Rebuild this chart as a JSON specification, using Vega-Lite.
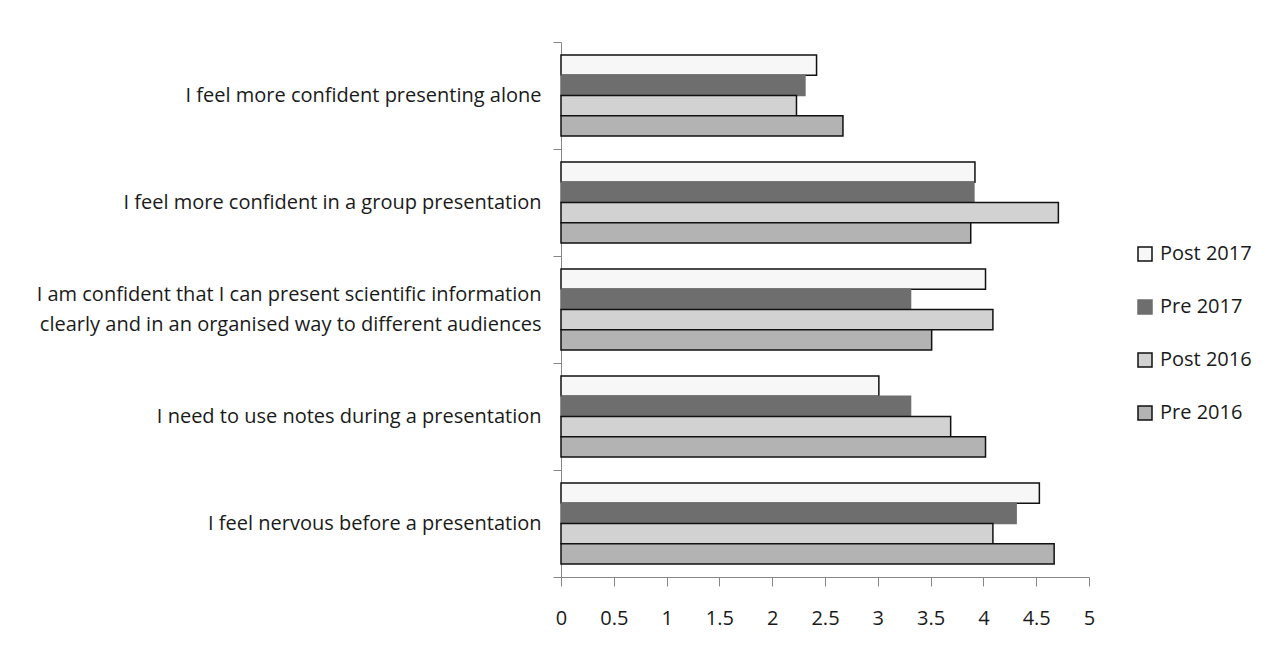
{
  "$schema": "https://vega.github.io/schema/vega-lite/v6.json",
  "width": 528,
  "height": 535,
  "autosize": "none",
  "padding": {"left": 561, "top": 42, "right": 178, "bottom": 69},
  "background": "white",
  "config": {
    "view": {"stroke": null},
    "font": "Open Sans",
    "axis": {"labelFont": "Open Sans", "labelColor": "#1a1a1a", "domainColor": "#868686", "tickColor": "#868686", "grid": false, "title": null},
    "legend": {"labelFont": "Open Sans"}
  },
  "data": {
    "values": [
      {"q": "I feel more confident presenting alone", "series": "Post 2017", "value": 2.42},
      {"q": "I feel more confident presenting alone", "series": "Pre 2017", "value": 2.31},
      {"q": "I feel more confident presenting alone", "series": "Post 2016", "value": 2.23},
      {"q": "I feel more confident presenting alone", "series": "Pre 2016", "value": 2.67},
      {"q": "I feel more confident in a group presentation", "series": "Post 2017", "value": 3.92},
      {"q": "I feel more confident in a group presentation", "series": "Pre 2017", "value": 3.91},
      {"q": "I feel more confident in a group presentation", "series": "Post 2016", "value": 4.71},
      {"q": "I feel more confident in a group presentation", "series": "Pre 2016", "value": 3.88},
      {"q": "I am confident that I can present scientific information clearly and in an organised way to different audiences", "series": "Post 2017", "value": 4.02},
      {"q": "I am confident that I can present scientific information clearly and in an organised way to different audiences", "series": "Pre 2017", "value": 3.31},
      {"q": "I am confident that I can present scientific information clearly and in an organised way to different audiences", "series": "Post 2016", "value": 4.09},
      {"q": "I am confident that I can present scientific information clearly and in an organised way to different audiences", "series": "Pre 2016", "value": 3.51},
      {"q": "I need to use notes during a presentation", "series": "Post 2017", "value": 3.01},
      {"q": "I need to use notes during a presentation", "series": "Pre 2017", "value": 3.31},
      {"q": "I need to use notes during a presentation", "series": "Post 2016", "value": 3.69},
      {"q": "I need to use notes during a presentation", "series": "Pre 2016", "value": 4.02},
      {"q": "I feel nervous before a presentation", "series": "Post 2017", "value": 4.53},
      {"q": "I feel nervous before a presentation", "series": "Pre 2017", "value": 4.31},
      {"q": "I feel nervous before a presentation", "series": "Post 2016", "value": 4.09},
      {"q": "I feel nervous before a presentation", "series": "Pre 2016", "value": 4.67}
    ]
  },
  "mark": {"type": "bar", "strokeWidth": 1.5},
  "encoding": {
    "y": {
      "field": "q",
      "type": "nominal",
      "sort": [
        "I feel more confident presenting alone",
        "I feel more confident in a group presentation",
        "I am confident that I can present scientific information clearly and in an organised way to different audiences",
        "I need to use notes during a presentation",
        "I feel nervous before a presentation"
      ],
      "scale": {"paddingInner": 0, "paddingOuter": 0},
      "axis": {
        "tickBand": "extent",
        "tickSize": 8,
        "labelPadding": 12,
        "labelFontSize": 20,
        "labelLimit": 600,
        "labelLineHeight": 30,
        "labelOffset": {"condition": {"test": "indexof(datum.label, ' clearly') > 0", "value": -15}, "value": 0},
        "labelExpr": "indexof(datum.label, ' clearly') > 0 ? [substring(datum.label, 0, indexof(datum.label, ' clearly')), substring(datum.label, indexof(datum.label, ' clearly') + 1)] : datum.label"
      }
    },
    "yOffset": {
      "field": "series",
      "type": "nominal",
      "sort": ["Post 2017", "Pre 2017", "Post 2016", "Pre 2016"],
      "scale": {"paddingInner": 0, "paddingOuter": 0.64}
    },
    "x": {
      "field": "value",
      "type": "quantitative",
      "scale": {"domain": [0, 5], "nice": false},
      "axis": {"values": [0, 0.5, 1, 1.5, 2, 2.5, 3, 3.5, 4, 4.5, 5], "format": "~g", "tickSize": 9, "labelPadding": 22, "labelFontSize": 20, "labelFlush": false}
    },
    "fill": {
      "field": "series",
      "type": "nominal",
      "scale": {"domain": ["Post 2017", "Pre 2017", "Post 2016", "Pre 2016"], "range": ["#f7f7f7", "#6e6e6e", "#d2d2d2", "#b3b3b3"]},
      "legend": {
        "title": null,
        "orient": "none",
        "legendX": 574,
        "legendY": 202,
        "symbolType": "square",
        "symbolSize": 196,
        "symbolStrokeWidth": 1.5,
        "labelFontSize": 20,
        "labelColor": "#1a1a1a",
        "rowPadding": 33,
        "labelOffset": 5
      }
    },
    "stroke": {
      "field": "series",
      "type": "nominal",
      "scale": {"domain": ["Post 2017", "Pre 2017", "Post 2016", "Pre 2016"], "range": ["#111111", "#6e6e6e", "#111111", "#111111"]}
    }
  }
}
